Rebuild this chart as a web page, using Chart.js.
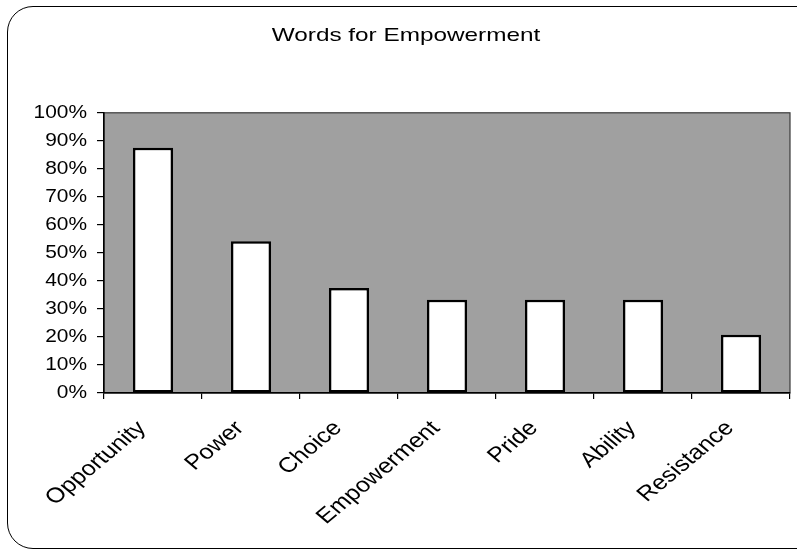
<!DOCTYPE html>
<html>
<head>
<meta charset="utf-8">
<script src="https://cdn.jsdelivr.net/npm/chart.js@4/dist/chart.umd.min.js"></script>
<style>
  html, body { margin: 0; padding: 0; background: #fff; overflow: hidden; }
  #wrap { position: relative; width: 797px; height: 551px; }
  #c { position: absolute; left: 0; top: 0; }
  #frame {
    position: absolute; left: 7px; top: 6px; width: 830px; height: 541px;
    border: 1.5px solid #000; border-radius: 26px; pointer-events: none;
  }
</style>
</head>
<body>
<div id="wrap">
  <canvas id="c" width="797" height="551"></canvas>
  <div id="frame"></div>
</div>
<script>
// Share of respondents choosing each word
const categories = ['Opportunity', 'Power', 'Choice', 'Empowerment', 'Pride', 'Ability', 'Resistance'];
const shares = [0.875, 0.542, 0.375, 0.333, 0.333, 0.333, 0.208];
const yTickLabels = ['0%', '10%', '20%', '30%', '40%', '50%', '60%', '70%', '80%', '90%', '100%'];

const FONT = 'Arial, "Liberation Sans", sans-serif';

// Horizontal widening of text glyphs, per kind of label
function widthFactor(text) {
  if (yTickLabels.includes(text)) return 1.1;
  if (categories.includes(text)) return 1.2;
  return 1.28;
}

// Draw every text run slightly wider, anchored at its own position
const wideText = {
  id: 'wideText',
  beforeInit(chart) {
    const ctx = chart.ctx;
    const baseFill = ctx.fillText.bind(ctx);
    ctx.fillText = function (text, x, y, maxWidth) {
      const m = ctx.getTransform();
      const p = m.transformPoint(new DOMPoint(x, y));
      const k = widthFactor(String(text));
      const s = new DOMMatrix().translate(p.x, p.y).scale(k, 1).translate(-p.x, -p.y);
      ctx.setTransform(s.multiply(m));
      if (maxWidth === undefined) baseFill(text, x, y); else baseFill(text, x, y, maxWidth);
      ctx.setTransform(m);
    };
  }
};

// Grey plot area with a thin dark frame
const plotBackground = {
  id: 'plotBackground',
  beforeDraw(chart) {
    const { ctx, chartArea: a } = chart;
    ctx.save();
    ctx.fillStyle = '#a0a0a0';
    ctx.fillRect(a.left, a.top, a.right - a.left, a.bottom - a.top);
    ctx.strokeStyle = '#3a3a3a';
    ctx.lineWidth = 1.2;
    ctx.strokeRect(a.left, a.top, a.right - a.left, a.bottom - a.top);
    ctx.restore();
  }
};

const chart = new Chart(document.getElementById('c'), {
  type: 'bar',
  data: {
    labels: categories,
    datasets: [{
      data: shares,
      backgroundColor: '#ffffff',
      borderColor: '#000000',
      borderWidth: 2.5,
      borderSkipped: false,
      barPercentage: 0.41,
      categoryPercentage: 1.0
    }]
  },
  options: {
    responsive: false,
    animation: false,
    layout: { padding: { left: 22, right: 7, top: 0, bottom: 0 } },
    plugins: {
      legend: { display: false },
      tooltip: { enabled: false },
      title: {
        display: true,
        text: 'Words for Empowerment',
        color: '#000',
        font: { family: FONT, size: 19, weight: 'normal' },
        padding: { top: 24, bottom: 66 }
      }
    },
    scales: {
      x: {
        grid: {
          drawOnChartArea: false,
          drawTicks: true,
          tickLength: 6,
          color: '#000',
          lineWidth: 1.2
        },
        border: { display: true, color: '#000', width: 1.5 },
        ticks: {
          color: '#000',
          font: { family: FONT, size: 21 },
          maxRotation: 45,
          minRotation: 45,
          padding: 17,
          labelOffset: -11
        },
        afterFit(scale) { scale.height = 158; }
      },
      y: {
        min: 0,
        max: 1,
        grid: {
          drawOnChartArea: false,
          drawTicks: true,
          tickLength: 7,
          color: '#000',
          lineWidth: 1.2
        },
        border: { display: true, color: '#000', width: 1.5 },
        ticks: {
          stepSize: 0.1,
          color: '#000',
          padding: 10,
          font: { family: FONT, size: 19 },
          callback: (v, i) => yTickLabels[i]
        },
        afterFit(scale) { scale.width = 82; }
      }
    }
  },
  plugins: [wideText, plotBackground]
});
</script>
</body>
</html>
